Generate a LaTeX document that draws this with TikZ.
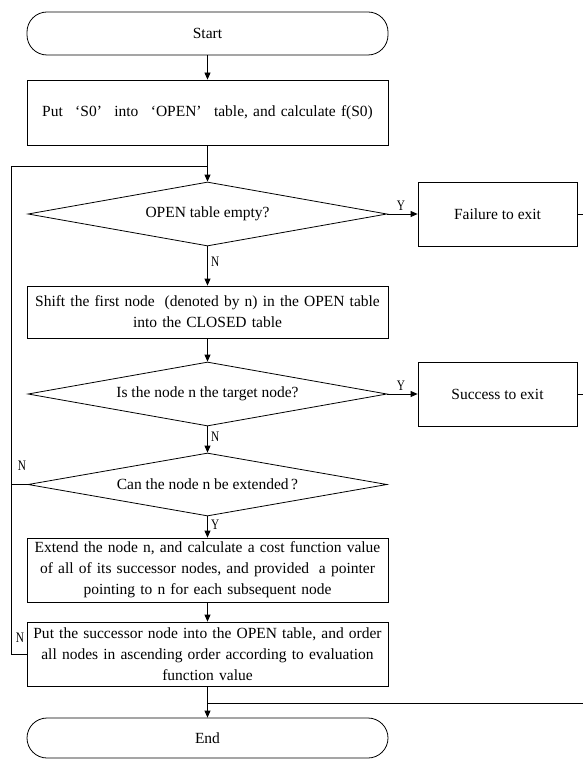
\documentclass[tikz,border=0pt]{standalone}
\usepackage{fontspec}
\setmainfont{Liberation Serif}
\newfontfamily\yn[FakeStretch=0.78]{Liberation Serif}
\usepackage{tikz}
\usetikzlibrary{arrows.meta,shapes.geometric}

\tikzset{
  flow/.style={line width=0.8pt, -{Triangle[length=7pt,width=6pt]}},
  link/.style={line width=0.8pt},
  procbox/.style={draw, line width=0.8pt, rectangle, inner sep=2pt, align=center,
    minimum width=361pt, text width=357pt},
  exitbox/.style={draw, line width=0.8pt, rectangle, minimum width=159pt, minimum height=64pt},
  termbox/.style={draw, line width=0.8pt, rectangle, rounded corners=20pt, minimum width=361pt},
  testbox/.style={draw, line width=0.8pt, diamond, aspect=5.6, inner sep=0pt,
    minimum width=359pt, minimum height=64pt},
  yes/.style={font=\yn\fontsize{14.5}{16}\selectfont}
}

\begin{document}
\begin{tikzpicture}[x=1pt, y=-1pt, font=\fontsize{15.5}{21}\selectfont]
\useasboundingbox (0,0) rectangle (582,759);
% Start and first step
\node[termbox, minimum height=43pt] (start) at (207.5,33.5) {Start};
\node[procbox, minimum height=65pt] (put) at (207.5,112.5)
  {Put\hspace{0.8em}‘S0’\hspace{0.8em}into\hspace{0.8em}‘OPEN’\hspace{0.8em}table, and calculate f(S0)};
% Tests and exits
\node[testbox] (empty) at (207.5,214) {OPEN table empty?};
\node[exitbox] (fail) at (497.5,214) {Failure to exit};
\node[procbox, minimum height=52pt] (shift) at (207.5,312)
  {Shift the first node\hspace{0.3em} (denoted by n) in the OPEN table\\ into the CLOSED table};
\node[testbox] (target) at (207.5,394) {Is the node n the target node?};
\node[exitbox] (succ) at (497.5,394) {Success to exit};
\node[testbox, minimum height=63pt] (extd) at (207.5,484.5) {Can the node n be extended\,?};
% Expansion
\node[procbox, minimum height=64pt] (expand) at (207.5,570)
  {Extend the node n, and calculate a cost function value\\ of all of its successor nodes, and provided\hspace{0.3em} a pointer\\ pointing to n for each subsequent node};
\node[procbox, minimum height=64pt] (order) at (207.5,654)
  {Put the successor node into the OPEN table, and order\\ all nodes in ascending order according to evaluation\\ function value};
\node[termbox, minimum height=40pt] (finish) at (207.5,738) {End};
% Helper points
\coordinate (join) at (207.5,166);
\coordinate (lx) at (11,166);
\coordinate (rx) at (585,703);
\coordinate (merge) at (207.5,703);
% Main flow
\draw[flow] (start) -- (put);
\draw[flow] (put) -- (empty);
\draw[flow] (empty) -- node[yes, right, pos=0.4] {N} (shift);
\draw[flow] (shift) -- (target);
\draw[flow] (target) -- node[yes, right, pos=0.4] {N} (extd);
\draw[flow] (extd) -- node[yes, right, pos=0.4] {Y} (expand);
\draw[flow] (expand) -- (order);
\draw[flow] (order) -- (finish);
% Exits
\draw[flow] (empty.east) -- node[yes, above, pos=0.45] {Y} (fail.west);
\draw[flow] (target.east) -- node[yes, above, pos=0.45] {Y} (succ.west);
\draw[link] (fail.east) -- (fail.east -| rx) -- (rx) -- (merge);
\draw[link] (succ.east) -- (succ.east -| rx);
% Loop back
\draw[link] (order.west) -| (lx) -- (join);
\draw[link] (extd.west) -- (extd.west -| lx);
\node[yes] (nx) at (22,466) {N};
\node[yes] (no) at (20,638) {N};
\end{tikzpicture}
\end{document}
